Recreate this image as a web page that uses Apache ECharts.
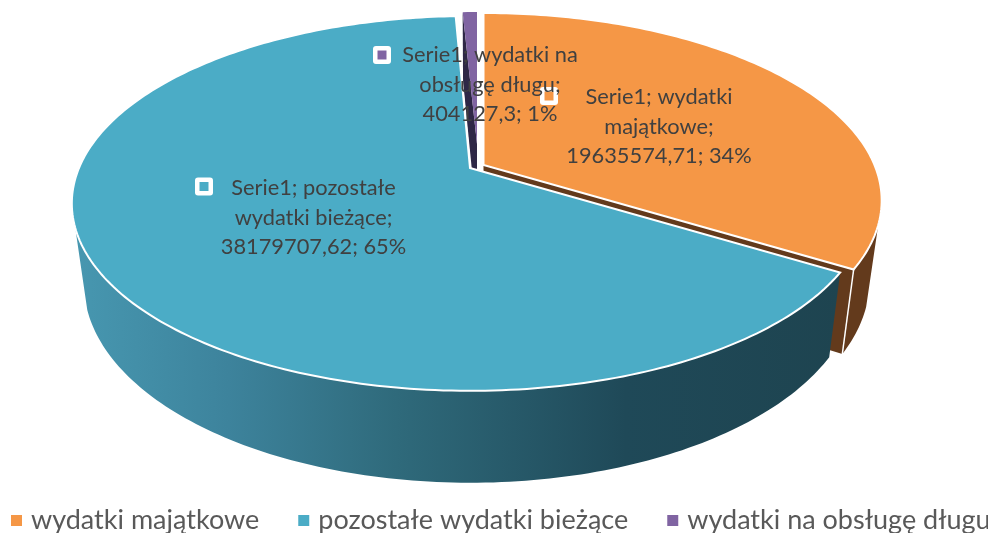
<!DOCTYPE html>
<html><head><meta charset="utf-8">
<style>html,body{margin:0;padding:0;background:#fff}#c{width:988px;height:533px}</style>
<script src="https://cdn.jsdelivr.net/npm/echarts@6/dist/echarts.min.js"></script>
</head><body><div id="c"></div>
<script>
// Data
const categories = ['wydatki majątkowe', 'pozostałe wydatki bieżące', 'wydatki na obsługę długu'];
const seriesName = 'Serie1';
const values = [19635574.71, 38179707.62, 404127.3];
const percents = [34, 65, 1];
const labelNameLines = [['wydatki', 'majątkowe'], ['pozostałe', 'wydatki bieżące'], ['wydatki na', 'obsługę długu']];

// Colours
const faceColors = ['#F59746', '#4BACC6', '#8064A2'];
const wallColors = ['#633A1C', null, '#2E2746'];

// Geometry of the perspective disc
const RX = 391, RY = 180.7, PERSP = 0.189;
const centers = [{x:483.5,y:165},{x:470,y:168},{x:477,y:164}];
const purpleApexLift = 20;
const WALL_FROM = 108.2, WALL_TO = 251.8;
const labelAnchors = [{x:659,y:97,mx:549,my:96},{x:313.5,y:188,mx:204,my:186.5},{x:490,y:55,mx:382,my:55}];

const total = values.reduce((a,b)=>a+b,0);
const bounds = []; let acc = 0;
values.forEach(v=>{ const s=acc/total*360; acc+=v; bounds.push([s,acc/total*360]); });

function proj(c,deg){ const t=deg*Math.PI/180,s=Math.sin(t),u=Math.cos(t),d=1+PERSP*u;
  return [c.x+RX*s/d, c.y-RY*u/d]; }
function drop(p){ return [476+(p[0]-476)*0.97, p[1]+82+(p[1]-228)*0.061]; }
function arc(c,a,b){ const n=Math.max(2,Math.ceil(Math.abs(b-a))),r=[];
  for(let i=0;i<=n;i++) r.push(proj(c,a+(b-a)*i/n)); return r; }
function poly(points,fill,z2,stroke){ return {type:'polygon',z2,shape:{points},
  style:{fill,stroke:stroke||null,lineWidth:stroke?2:0,lineJoin:'miter'}}; }

const blueWall = {type:'linear',x:0,y:0,x2:1,y2:0,colorStops:[
  {offset:0,color:'#4797B0'},{offset:0.2,color:'#3D839C'},{offset:0.42,color:'#2F6A7B'},
  {offset:0.72,color:'#1F4958'},{offset:1,color:'#1E4450'}]};

function renderItem(params){
  const i=params.dataIndex, c=centers[i], [a,b]=bounds[i], kids=[];
  const face=[];
  if(i===2){ face.push([c.x,c.y-purpleApexLift]); } else face.push([c.x,c.y]);
  arc(c,a,b).forEach(p=>face.push(p));
  kids.push(poly(face,faceColors[i],i===2?30:40,i===2?null:'#fff'));
  if(i===0){
    const top=arc(c,WALL_FROM,b), bot=top.map(drop).reverse();
    kids.push(poly(top.concat(bot),wallColors[0],10));
    const e=proj(c,b);
    kids.push(poly([[c.x,c.y],e,drop(e),drop([c.x,c.y])],wallColors[0],12));
    kids.push({type:'line',z2:21,shape:{x1:e[0],y1:e[1],x2:drop(e)[0],y2:drop(e)[1]},style:{stroke:'#fff',lineWidth:1.5}});
  } else if(i===1){
    const top=arc(c,a,WALL_TO), bot=top.map(drop).reverse();
    kids.push(poly(top.concat(bot),blueWall,15));
  } else {
    const o=proj(c,a), ap=[c.x,c.y-purpleApexLift];
    kids.push(poly([o,ap,drop(ap),drop(o)],wallColors[2],5));
  }
  // data label
  const L=labelAnchors[i], lh=29.5;
  const pct=percents[i], val=String(values[i]).replace('.',',');
  const nl=labelNameLines[i];
  const lines=[seriesName+'; '+nl[0], nl[1]+';', val+'; '+pct+'%'];
  kids.push({type:'rect',z2:50,shape:{x:L.mx-9,y:L.my-9,width:18,height:18,r:3},style:{fill:'#fff'}});
  kids.push({type:'rect',z2:51,shape:{x:L.mx-4.5,y:L.my-4.5,width:9,height:9},style:{fill:faceColors[i]}});
  lines.forEach((t,k)=>kids.push({type:'text',z2:60,style:{x:L.x,y:L.y+k*lh,text:t,align:'center',verticalAlign:'middle',
    font:'21.8px Lato',fill:'#404040'}}));
  return {type:'group',children:kids};
}

const chart=echarts.init(document.getElementById('c'),null,{renderer:'canvas'});
chart.setOption({
  animation:false,
  legend:{left:11,top:507,width:1300,padding:0,itemWidth:11,itemHeight:11,itemGap:39,icon:'rect',selectedMode:false,
    data:categories,textStyle:{fontFamily:'Lato',fontSize:27,color:'#595959',padding:[0,0,0,4]}},
  series:[
    {type:'custom',coordinateSystem:'none',silent:true,clip:false,renderItem,data:values.map(v=>[v])},
    {type:'pie',radius:[0,0],silent:true,label:{show:false},labelLine:{show:false},
     data:categories.map((n,i)=>({name:n,value:values[i],itemStyle:{color:faceColors[i]}}))}
  ]
});
</script></body></html>
